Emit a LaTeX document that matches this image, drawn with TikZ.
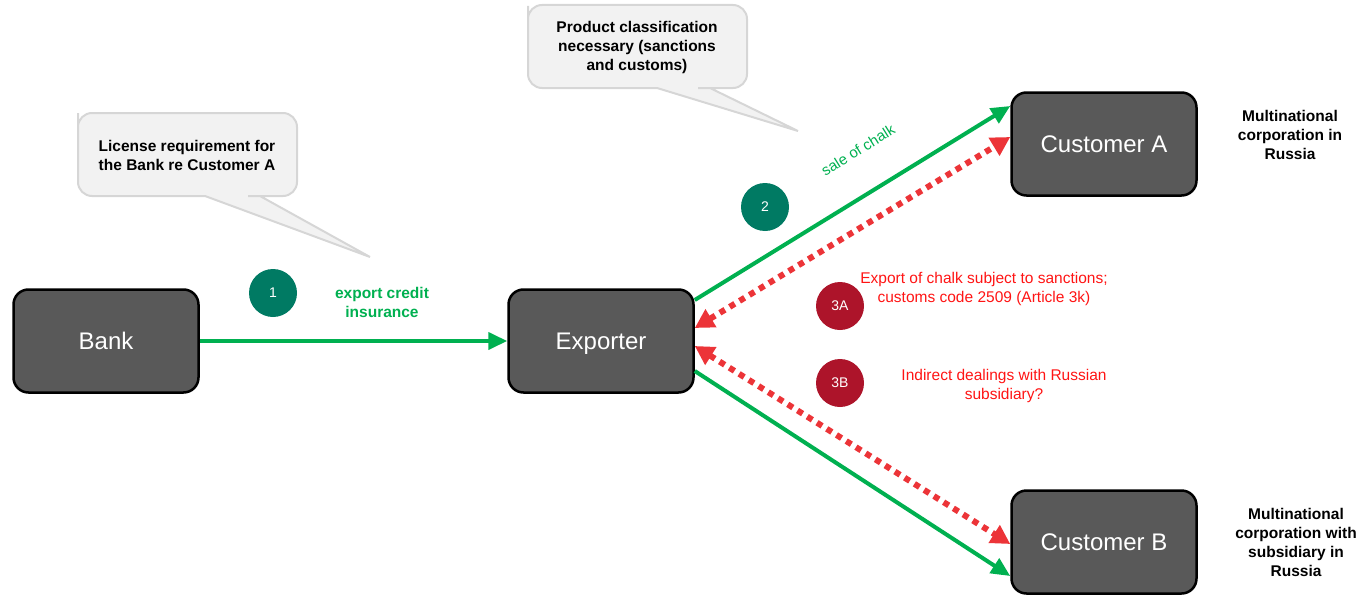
\documentclass[tikz,border=0pt]{standalone}
\usepackage{fontspec}
\setmainfont{Liberation Sans}
\usetikzlibrary{arrows.meta}
\definecolor{boxgray}{RGB}{89,89,89}
\definecolor{flowgreen}{RGB}{0,176,80}
\definecolor{issuered}{RGB}{236,52,56}
\definecolor{textred}{RGB}{255,20,20}
\definecolor{teal}{RGB}{0,122,99}
\definecolor{wine}{RGB}{173,20,42}
\definecolor{bubblefill}{RGB}{242,242,242}
\definecolor{bubbleline}{RGB}{214,214,214}
\begin{document}
\begin{tikzpicture}[x=1pt, y=-1pt,
  party/.style = {draw, line width=2.5pt, fill=boxgray, rounded corners=15pt, minimum width=185pt, minimum height=103pt, text depth=0pt, text=white, font=\fontsize{24}{28}\selectfont},
  num/.style = {circle, minimum size=48pt, text=white, font=\fontsize{14}{16}\selectfont},
  flow/.style = {draw=flowgreen, line width=4pt, -{Triangle[length=19pt,width=17pt]}},
  issue/.style = {draw=issuered, line width=6pt, dash pattern=on 6pt off 5.5pt, {Triangle[length=19pt,width=20pt]}-{Triangle[length=19pt,width=20pt]}},
  bubble/.style = {draw=bubbleline, fill=bubblefill, line width=2pt},
  note/.style = {align=center, font=\fontsize{15.5}{19}\selectfont\bfseries}]
\useasboundingbox (0,0) rectangle (1359,594);
\draw[bubble] (78,127) [rounded corners=14pt] -- (78,113) -- (297,113) -- (297,196) -- (262,196) [sharp corners] -- (260,196) -- (370,257) -- (205,196) [rounded corners=14pt] -- (78,196) -- cycle;
\draw[bubble] (528,20) [rounded corners=14pt] -- (528,5) -- (747,5) -- (747,88) -- (712,88) [sharp corners] -- (710,88) -- (798,131) -- (657,88) [rounded corners=14pt] -- (528,88) -- cycle;
\node[note] (lic) at (187,155) {License requirement for\\the Bank re Customer A};
\node[note] (cls) at (637,47) {Product classification\\necessary (sanctions\\and customs)};
\node[party] (bank) at (106,341) {Bank};
\node[party] (exp) at (601,341) {Exporter};
\node[party] (cusa) at (1104,144) {Customer A};
\node[party] (cusb) at (1104,542) {Customer B};
\node[note] (desca) at (1290,135) {Multinational\\corporation in\\Russia};
\node[note] (descb) at (1296,542) {Multinational\\corporation with\\subsidiary in\\Russia};
\node[num, fill=teal] (n1) at (273,293) {1};
\node[num, fill=teal] (n2) at (765,207) {2};
\node[num, fill=wine] (n3a) at (840,306) {3A};
\node[num, fill=wine] (n3b) at (840,383) {3B};
\node[note, text=flowgreen] (ins) at (382,302) {export credit\\insurance};
\node[text=flowgreen, rotate=32, font=\fontsize{15}{18}\selectfont] (sale) at (858,150) {sale of chalk};
\node[align=center, text=textred, font=\fontsize{15.5}{18.5}\selectfont] (sanc) at (984,289) {Export of chalk subject to sanctions;\\customs code 2509 (Article 3k)};
\node[align=center, text=textred, font=\fontsize{15.5}{18.5}\selectfont] (indir) at (1004,386) {Indirect dealings with Russian\\subsidiary?};
\draw[flow] (bank) -- (exp);
\draw[flow] ([yshift=41pt]exp.east) -- ([yshift=38pt]cusa.west);
\draw[issue] ([yshift=13pt]exp.east) -- ([yshift=7pt]cusa.west);
\draw[issue] ([yshift=-5pt]exp.east) -- ([yshift=-2pt]cusb.west);
\draw[flow] ([yshift=-30pt]exp.east) -- ([yshift=-34pt]cusb.west);
\end{tikzpicture}
\end{document}
